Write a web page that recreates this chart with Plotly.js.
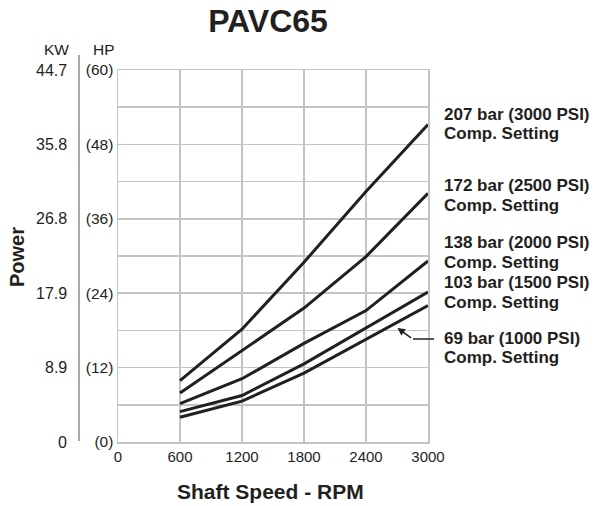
<!DOCTYPE html>
<html>
<head>
<meta charset="utf-8">
<script src="https://cdn.plot.ly/plotly-3.0.1.min.js"></script>
<style>html,body{margin:0;padding:0;background:#fff;}#chart{width:600px;height:506px;}</style>
</head>
<body>
<div id="chart"></div>
<script>
// Shaft speed (RPM)
const rpm = [600, 1200, 1800, 2400, 3000];
// Power in HP for each compensator setting
const hp207 = [9.9, 18.2, 29.0, 40.4, 51.2];
const hp172 = [7.9, 14.8, 21.6, 29.9, 40.1];
const hp138 = [6.2, 10.2, 15.9, 21.2, 29.2];
const hp103 = [4.9, 7.5, 12.6, 18.4, 24.2];
const hp69  = [4.0, 6.6, 11.1, 16.6, 22.0];

const seriesNames = ["207 bar (3000 PSI)", "172 bar (2500 PSI)", "138 bar (2000 PSI)", "103 bar (1500 PSI)", "69 bar (1000 PSI)"];
const seriesData = [hp207, hp172, hp138, hp103, hp69];
const secondLine = "Comp. Setting";

// Axis ticks
const xTicks = [0, 600, 1200, 1800, 2400, 3000];
const hpTickVals = [0, 6, 12, 18, 24, 30, 36, 42, 48, 54, 60];
const hpTickText = ["(0)", "", "(12)", "", "(24)", "", "(36)", "", "(48)", "", "(60)"];
const kwTickVals = [0, 12, 24, 36, 48, 60];
const kwTickText = ["0", "8.9", "17.9", "26.8", "35.8", "44.7"];

// Label block centers (pixel y) for right-side labels
const labelCenters = [124, 195.5, 252.5, 292.5, 348];
const lineGap = 19.6;

const L = 118, R = 428, T = 70, B = 442;
const W = R - L, H = B - T;
const px2paperX = p => (p - L) / W;
const px2paperY = p => (B - p) / H;

const font = "Liberation Sans, Arial, Helvetica, sans-serif";
const ink = "#231f20";

const traces = seriesData.map((ys, i) => ({
  x: rpm, y: ys, type: "scatter", mode: "lines", name: seriesNames[i],
  line: {color: ink, width: 3}, showlegend: false, hoverinfo: "skip"
}));

const annotations = [];
// KW tick labels
kwTickVals.forEach((v, i) => {
  annotations.push({xref: "paper", yref: "y", x: px2paperX(69), y: v, text: kwTickText[i],
    showarrow: false, xanchor: "right", yanchor: "middle", font: {family: font, size: 16, color: ink}});
});
// headers
annotations.push({xref: "paper", yref: "paper", x: px2paperX(71), y: px2paperY(49), text: "KW", showarrow: false,
  xanchor: "right", yanchor: "middle", font: {family: font, size: 15.5, color: ink}});
annotations.push({xref: "paper", yref: "paper", x: px2paperX(117), y: px2paperY(49), text: "HP", showarrow: false,
  xanchor: "right", yanchor: "middle", font: {family: font, size: 15.5, color: ink}});
// Power
annotations.push({xref: "paper", yref: "paper", x: px2paperX(17), y: px2paperY(257), text: "<b>Power</b>", showarrow: false,
  textangle: -90, xanchor: "center", yanchor: "middle", font: {family: font, size: 20, color: ink}});
// X title
annotations.push({xref: "paper", yref: "paper", x: px2paperX(270), y: px2paperY(492), text: "<b>Shaft Speed - RPM</b>", showarrow: false,
  xanchor: "center", yanchor: "middle", font: {family: font, size: 21, color: ink}});
// Series labels
seriesNames.forEach((n, i) => {
  annotations.push({xref: "paper", yref: "paper", x: px2paperX(442), y: px2paperY(labelCenters[i] - lineGap / 2), text: "<b>" + n + "</b>",
    showarrow: false, xanchor: "left", yanchor: "middle", font: {family: font, size: 17, color: ink}});
  annotations.push({xref: "paper", yref: "paper", x: px2paperX(442), y: px2paperY(labelCenters[i] + lineGap / 2), text: "<b>" + secondLine + "</b>",
    showarrow: false, xanchor: "left", yanchor: "middle", font: {family: font, size: 17, color: ink}});
});
// Arrow to 69 bar line
annotations.push({xref: "x", yref: "y", x: 2705, y: 18.4, ax: 15, ay: 11, text: "", showarrow: true,
  arrowhead: 2, arrowsize: 1, arrowwidth: 1.5, arrowcolor: ink, standoff: 0});

const shapes = [
  // KW axis line
  {type: "line", xref: "paper", yref: "paper", x0: px2paperX(79), x1: px2paperX(79), y0: px2paperY(55), y1: px2paperY(441),
    line: {color: "#8c8c8c", width: 1.5}},
  // leader line for arrow
  {type: "line", xref: "paper", yref: "paper", x0: px2paperX(413), x1: px2paperX(434), y0: px2paperY(339), y1: px2paperY(339),
    line: {color: ink, width: 1.5}}
];

const layout = {
  width: 600, height: 506,
  margin: {l: L, r: 600 - R, t: T, b: 506 - B, pad: 0},
  paper_bgcolor: "#fff", plot_bgcolor: "#fff",
  title: {text: "<b>PAVC65</b>", font: {family: font, size: 32, color: ink}, xref: "container", yref: "container",
    x: 268 / 600, y: 1 - 21 / 506, xanchor: "center", yanchor: "middle"},
  xaxis: {range: [0, 3000], tickvals: xTicks, ticktext: xTicks.map(String), showgrid: true, gridcolor: "#c4c4c4", gridwidth: 1.5,
    showline: true, linecolor: "#c4c4c4", linewidth: 1.5, mirror: true, zeroline: false, ticks: "",
    tickfont: {family: font, size: 15, color: ink}, fixedrange: true},
  yaxis: {range: [0, 60], tickvals: hpTickVals, ticktext: hpTickText, showgrid: true, gridcolor: "#c4c4c4", gridwidth: 1.5,
    showline: true, linecolor: "#c4c4c4", linewidth: 1.5, mirror: true, zeroline: false, ticks: "",
    tickfont: {family: font, size: 15.5, color: ink}, fixedrange: true},
  annotations: annotations,
  shapes: shapes,
  showlegend: false
};

Plotly.newPlot("chart", traces, layout, {displayModeBar: false, staticPlot: true});
</script>
</body>
</html>
